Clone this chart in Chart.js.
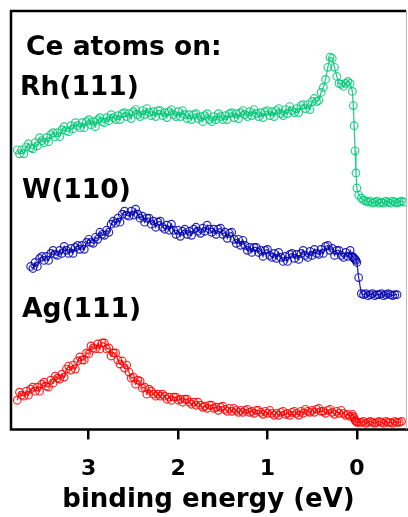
<!DOCTYPE html>
<html>
<head>
<meta charset="utf-8">
<script src="https://cdn.jsdelivr.net/npm/chart.js@4"></script>
<style>
  html, body { margin: 0; padding: 0; background: #fff; overflow: hidden; }
  canvas { display: block; }
</style>
</head>
<body>
<canvas id="chart" width="408" height="517"></canvas>
<script>
// binding energy grid (eV)
const energy = [
  3.8, 3.775, 3.75, 3.725, 3.7, 3.675, 3.65, 3.625, 3.6, 3.575,
  3.55, 3.525, 3.5, 3.475, 3.45, 3.425, 3.4, 3.375, 3.35, 3.325,
  3.3, 3.275, 3.25, 3.225, 3.2, 3.175, 3.15, 3.125, 3.1, 3.075,
  3.05, 3.025, 3.0, 2.975, 2.95, 2.925, 2.9, 2.875, 2.85, 2.825,
  2.8, 2.775, 2.75, 2.725, 2.7, 2.675, 2.65, 2.625, 2.6, 2.575,
  2.55, 2.525, 2.5, 2.475, 2.45, 2.425, 2.4, 2.375, 2.35, 2.325,
  2.3, 2.275, 2.25, 2.225, 2.2, 2.175, 2.15, 2.125, 2.1, 2.075,
  2.05, 2.025, 2.0, 1.975, 1.95, 1.925, 1.9, 1.875, 1.85, 1.825,
  1.8, 1.775, 1.75, 1.725, 1.7, 1.675, 1.65, 1.625, 1.6, 1.575,
  1.55, 1.525, 1.5, 1.475, 1.45, 1.425, 1.4, 1.375, 1.35, 1.325,
  1.3, 1.275, 1.25, 1.225, 1.2, 1.175, 1.15, 1.125, 1.1, 1.075,
  1.05, 1.025, 1.0, 0.975, 0.95, 0.925, 0.9, 0.875, 0.85, 0.825,
  0.8, 0.775, 0.75, 0.725, 0.7, 0.675, 0.65, 0.625, 0.6, 0.575,
  0.55, 0.525, 0.5, 0.475, 0.45, 0.425, 0.4, 0.375, 0.35, 0.325,
  0.3, 0.275, 0.25, 0.225, 0.2, 0.175, 0.15, 0.125, 0.1, 0.075,
  0.05,
  0.04, 0.03, 0.02, 0.01, 0.0, -0.02,
  -0.05, -0.075, -0.1, -0.125, -0.15, -0.175, -0.2, -0.225, -0.25, -0.275,
  -0.3, -0.325, -0.35, -0.375, -0.4, -0.425, -0.45, -0.475, -0.5, -0.525, -0.55];

// intensity (arb. units, curves already offset)
const rhCounts = [
  278, 274, 278, 274, 281, 284, 280, 279, 285, 282,
  290, 287, 285, 290, 286, 293, 295, 291, 295, 291,
  298, 301, 297, 296, 302, 299, 305, 302, 300, 305,
  300, 306, 308, 303, 306, 301, 308, 310, 306, 305,
  310, 307, 313, 310, 308, 312, 308, 314, 315, 311,
  314, 309, 316, 318, 313, 311, 317, 313, 319, 315,
  312, 316, 311, 317, 317, 312, 315, 310, 316, 318,
  313, 311, 316, 311, 317, 313, 309, 313, 308, 313,
  314, 309, 311, 306, 312, 314, 308, 306, 311, 308,
  314, 311, 308, 312, 308, 314, 315, 310, 314, 309,
  315, 317, 313, 311, 316, 312, 318, 314, 311, 315,
  310, 316, 317, 312, 316, 311, 317, 319, 314, 312,
  318, 314, 321, 317, 315, 319, 315, 322, 323, 319,
  323, 318, 326, 329, 326, 327, 335, 340, 348, 360,
  370, 369, 360, 351, 344, 343, 341, 344, 346, 344,
  336,
  322, 302, 277, 255, 240, 233,
  230, 228, 227, 226, 227, 225, 226, 227, 225, 226,
  225, 227, 226, 225, 227, 226, 225, 226, 227, 226, null];

const w110Counts = [
  null, null, null, null, null, null, 162, 160, 166, 162,
  170, 172, 168, 172, 168, 175, 178, 174, 173, 178,
  175, 182, 178, 175, 180, 175, 181, 183, 179, 183,
  179, 186, 189, 186, 185, 191, 189, 196, 194, 193,
  198, 196, 204, 207, 205, 210, 206, 214, 217, 213,
  212, 217, 213, 219, 214, 210, 212, 206, 210, 210,
  204, 207, 201, 206, 207, 201, 199, 203, 198, 204,
  198, 194, 198, 192, 197, 199, 194, 197, 193, 199,
  201, 197, 195, 200, 197, 203, 199, 196, 199, 194,
  199, 200, 194, 196, 190, 195, 196, 189, 185, 189,
  183, 188, 183, 178, 181, 176, 181, 181, 176, 178,
  172, 178, 179, 173, 171, 175, 170, 176, 171, 167,
  172, 167, 174, 175, 170, 174, 169, 175, 178, 173,
  171, 177, 173, 179, 175, 174, 179, 175, 182, 183,
  178, 180, 173, 178, 178, 173, 171, 176, 172, 178,
  172,
  171, 170, 169, 168, 166, 151,
  135, 134, 135, 133, 134, 135, 133, 134, 134, 135,
  133, 134, 135, 134, 133, 134, 134, null, null, null, null];

const ag111Counts = [
  29, 37, 34, 33, 38, 34, 40, 42, 38, 42,
  38, 45, 47, 43, 42, 49, 46, 53, 51, 50,
  55, 52, 60, 63, 59, 64, 60, 68, 72, 69,
  69, 76, 75, 83, 81, 80, 85, 80, 86, 86,
  80, 81, 73, 76, 76, 69, 65, 68, 61, 64,
  57, 51, 52, 45, 49, 48, 41, 42, 35, 40,
  38, 35, 33, 35, 33, 35, 33, 30, 32, 29,
  32, 32, 29, 30, 27, 30, 30, 27, 25, 27,
  24, 27, 24, 22, 23, 21, 24, 24, 21, 22,
  19, 22, 23, 20, 18, 21, 18, 21, 19, 17,
  19, 17, 19, 20, 17, 18, 16, 19, 19, 17,
  15, 18, 16, 19, 16, 14, 16, 14, 17, 18,
  15, 16, 14, 17, 18, 16, 14, 18, 16, 20,
  18, 17, 19, 17, 20, 21, 18, 18, 16, 19,
  20, 17, 15, 18, 16, 19, 16, 14, 15, 13,
  15,
  13, 11, 9, 8, 7, 7,
  7, 8, 6, 7, 8, 7, 6, 7, 8, 7,
  6, 8, 7, 7, 6, 8, 7, 7, 8, null, null];

const xTicks = [3, 2, 1, 0];
const seriesNames = ['Rh(111)', 'W(110)', 'Ag(111)'];
const seriesColors = ['rgba(0,200,120,0.85)', 'rgba(0,0,175,0.85)', 'rgba(255,0,0,0.85)'];

const FONT = 'DejaVu Sans';

function makeSet(name, values, color) {
  return {
    label: name,
    data: energy.map((e, i) => ({ x: e, y: values[i] })),
    borderColor: color,
    borderWidth: 1.3,
    pointRadius: 3.8,
    pointBorderWidth: 1.2,
    pointBorderColor: color,
    pointBackgroundColor: 'rgba(0,0,0,0)',
    tension: 0,
    spanGaps: false
  };
}

// frame around the plot plus the in-plot text
const framePlugin = {
  id: 'frame',
  afterDraw(chart) {
    const { ctx, chartArea: a } = chart;
    ctx.save();
    ctx.strokeStyle = '#000';
    ctx.lineWidth = 2.5;
    ctx.beginPath();
    ctx.moveTo(a.right, a.top);
    ctx.lineTo(a.left, a.top);
    ctx.lineTo(a.left, a.bottom);
    ctx.lineTo(a.right + 2, a.bottom);
    ctx.stroke();
    ctx.strokeStyle = '#bbb';
    ctx.lineWidth = 1;
    ctx.beginPath();
    ctx.moveTo(a.right + 0.5, a.top);
    ctx.lineTo(a.right + 0.5, a.bottom);
    ctx.stroke();

    ctx.fillStyle = '#000';
    ctx.textBaseline = 'alphabetic';
    ctx.font = 'bold 26.5px "' + FONT + '"';
    ctx.fillText('Ce atoms on:', 26, 55);
    ctx.fillText(seriesNames[0], 20, 95);
    ctx.fillText(seriesNames[1], 22, 198);
    ctx.fillText(seriesNames[2], 22, 317);
    ctx.restore();
  }
};

new Chart(document.getElementById('chart'), {
  type: 'line',
  data: {
    datasets: [
      makeSet(seriesNames[0], rhCounts, seriesColors[0]),
      makeSet(seriesNames[1], w110Counts, seriesColors[1]),
      makeSet(seriesNames[2], ag111Counts, seriesColors[2])
    ]
  },
  options: {
    responsive: false,
    animation: false,
    layout: { autoPadding: false, padding: { left: 11, top: 11, right: 2, bottom: 0 } },
    plugins: { legend: { display: false }, tooltip: { enabled: false } },
    scales: {
      x: {
        type: 'linear',
        reverse: true,
        min: -0.55,
        max: 3.87,
        afterBuildTicks: (scale) => { scale.ticks = xTicks.map(v => ({ value: v })); },
        afterFit: (scale) => { scale.paddingLeft = 0; scale.paddingRight = 0; },
        grid: { drawOnChartArea: false, drawTicks: true, tickLength: 10, color: '#000', lineWidth: 2.5 },
        border: { display: false },
        ticks: { color: '#000', padding: 17, maxRotation: 0, autoSkip: false,
          font: { family: FONT, weight: 'bold', size: 22 } },
        title: { display: true, text: 'binding energy (eV)', color: '#000',
          padding: { top: -15, bottom: 1 },
          font: { family: FONT, weight: 'bold', size: 26 } }
      },
      y: { display: false, min: 0, max: 416 }
    }
  },
  plugins: [framePlugin]
});
</script>
</body>
</html>
